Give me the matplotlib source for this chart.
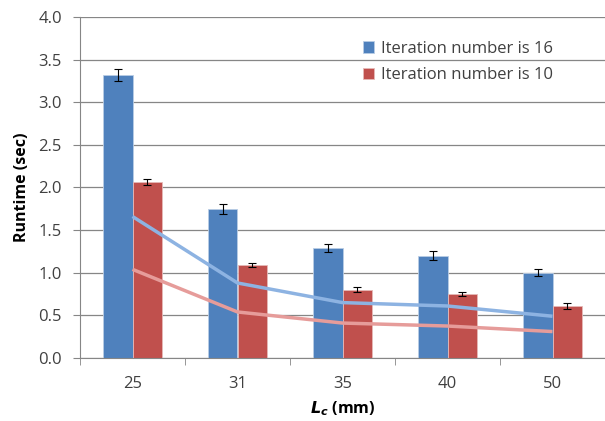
import numpy as np
import matplotlib.pyplot as plt

plt.rcParams['font.family'] = ['Open Sans', 'DejaVu Sans']

categories = ["25", "31", "35", "40", "50"]
iter16 = [3.32, 1.75, 1.29, 1.20, 1.00]
iter16_err = [0.065, 0.06, 0.05, 0.05, 0.04]
iter10 = [2.07, 1.09, 0.80, 0.75, 0.61]
iter10_err = [0.035, 0.025, 0.03, 0.025, 0.04]
line16 = [1.66, 0.88, 0.65, 0.61, 0.49]
line10 = [1.04, 0.54, 0.41, 0.375, 0.31]

blue = "#4f81bd"
red = "#c0504d"
txt = "#404040"

fig = plt.figure(figsize=(6.05, 4.21), dpi=100)
ax = fig.add_axes([80/605, 63/421, 525/605, 341/421])

x = np.arange(len(categories))
w = 0.285
ax.bar(x - w/2, iter16, w, color=blue, edgecolor="#b9cde5", linewidth=0.6,
       label="Iteration number is 16", zorder=2)
ax.bar(x + w/2, iter10, w, color=red, edgecolor="#e6b9b8", linewidth=0.6,
       label="Iteration number is 10", zorder=2)
ax.errorbar(x - w/2, iter16, yerr=iter16_err, fmt="none", ecolor="black",
            elinewidth=0.8, capsize=3, capthick=0.8, zorder=3)
ax.errorbar(x + w/2, iter10, yerr=iter10_err, fmt="none", ecolor="black",
            elinewidth=0.8, capsize=3, capthick=0.8, zorder=3)
ax.plot(x, line16, color="#8db3e2", linewidth=2.5, zorder=4, solid_capstyle="butt")
ax.plot(x, line10, color="#e69c9a", linewidth=2.5, zorder=4, solid_capstyle="butt")

ax.set_xlim(-0.5, len(categories) - 0.5)
ax.set_ylim(0, 4.0)
ax.set_yticks(np.arange(0, 4.01, 0.5))
ax.set_yticklabels([f"{v:.1f}" for v in np.arange(0, 4.01, 0.5)])
ax.set_xticks(x)
ax.set_xticklabels(categories)
ax.set_xticks(np.arange(-0.5, len(categories)), minor=True)
ax.tick_params(axis="x", which="major", length=0, pad=13, labelsize=12, colors=txt)
ax.tick_params(axis="x", which="minor", length=5, color="#868686", direction="out")
ax.tick_params(axis="y", length=5, labelsize=12, colors=txt, pad=8)
ax.tick_params(axis="y", color="#868686")
ax.grid(axis="y", color="#868686", linewidth=0.9, zorder=0)
ax.set_axisbelow(True)
for s in ["top", "right"]:
    ax.spines[s].set_visible(False)
for s in ["left", "bottom"]:
    ax.spines[s].set_color("#868686")

ax.set_ylabel("Runtime (sec)", fontsize=11.5, fontweight="bold", color="black", labelpad=6)
ax.set_xlabel(r"$\mathbfit{L}_{\mathbfit{c}}$ (mm)", fontsize=11.5, fontweight="bold",
              color="black", labelpad=5)

ax.legend(loc="upper left", bbox_to_anchor=(0.51, 0.975), frameon=False, fontsize=12,
          handlelength=0.7, handleheight=0.7, handletextpad=0.4, labelspacing=0.65,
          labelcolor=txt)

fig.savefig("out.png", dpi=100)
